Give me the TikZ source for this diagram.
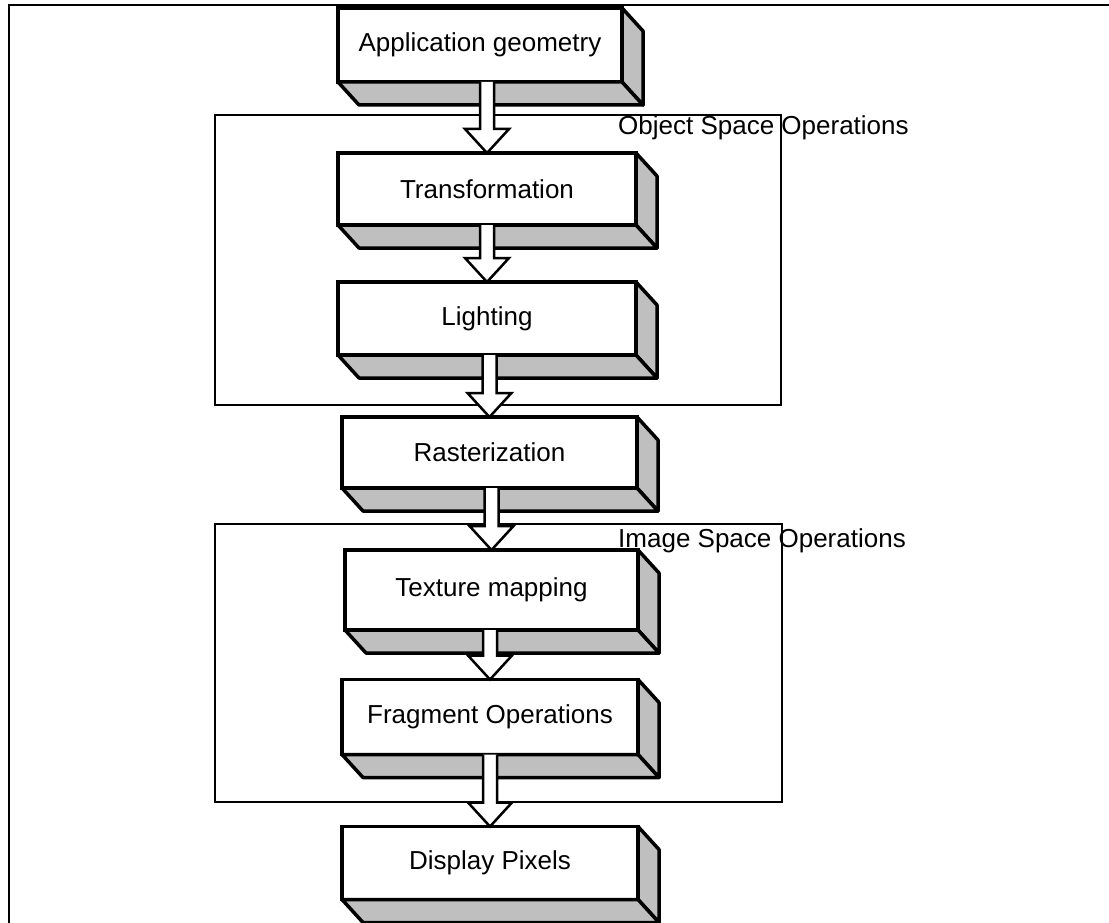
\documentclass[tikz,border=0pt]{standalone}
\usepackage{fontspec}
\setmainfont{Liberation Sans}
\usetikzlibrary{calc}

% extruded faces (right side and underside) of a stage box
\newcommand\slab[1]{%
  \draw[face] (#1.north east) -- ($(#1.north east)+(21,23)$) -- ($(#1.south east)+(21,23)$) -- (#1.south east) -- cycle;
  \draw[face] (#1.south west) -- (#1.south east) -- ($(#1.south east)+(21,23)$) -- ($(#1.south west)+(21,23)$) -- cycle;}

% hollow block arrow from the bottom of one stage to the top of the next
\newcommand\flow[2]{%
  \coordinate (#1-#2-s) at (#1.south -| #2.north);
  \coordinate (#1-#2-t) at (#2.north);
  \draw[hollow] ($(#1-#2-s)+(-7,0)$) -- ($(#1-#2-t)+(-7,-24)$) -- ($(#1-#2-t)+(-22,-24)$)
     -- (#1-#2-t) -- ($(#1-#2-t)+(22,-24)$) -- ($(#1-#2-t)+(7,-24)$) -- ($(#1-#2-s)+(7,0)$);}

\begin{document}
\begin{tikzpicture}[x=1pt,y=-1pt,
  stage/.style={draw, line width=3.5, fill=white, inner sep=0, outer sep=0,
                font=\fontsize{26}{30}\selectfont},
  face/.style={draw, line width=3.5, fill=black!25, line join=round},
  hollow/.style={draw, line width=2.5, fill=white, line join=miter},
  group/.style={draw, line width=2.2},
  grouplabel/.style={font=\fontsize{26}{30}\selectfont, anchor=base west, inner sep=0}]

\useasboundingbox (0,0) rectangle (1109,923);

% page frame
\draw[line width=2.5] (9,923) -- (9,5) -- (1109,5);

% operation groups
\draw[group] (215,115) rectangle (781,405);
\node[grouplabel] (objlbl) at (618,135) {Object Space Operations};
\draw[group] (215,524) rectangle (782,802);
\node[grouplabel] (imglbl) at (618,547) {Image Space Operations};

% pipeline stages
\node[stage, minimum width=284, minimum height=74] (app)   at (480,45)    {Application geometry};
\node[stage, minimum width=298, minimum height=72] (trans) at (487,189)   {Transformation};
\node[stage, minimum width=298, minimum height=73] (light) at (487,318.5) {Lighting};
\node[stage, minimum width=295, minimum height=71] (rast)  at (489.5,452.5) {Rasterization};
\node[stage, minimum width=293, minimum height=80] (tex)   at (491.5,590) {Texture mapping};
\node[stage, minimum width=296, minimum height=75] (frag)  at (490,717)   {Fragment Operations};
\node[stage, minimum width=296, minimum height=73] (disp)  at (490,863)   {Display Pixels};

\slab{app}\slab{trans}\slab{light}\slab{rast}\slab{tex}\slab{frag}\slab{disp}

% data flow
\flow{app}{trans}
\flow{trans}{light}
\flow{light}{rast}
\flow{rast}{tex}
\flow{tex}{frag}
\flow{frag}{disp}
\end{tikzpicture}
\end{document}
